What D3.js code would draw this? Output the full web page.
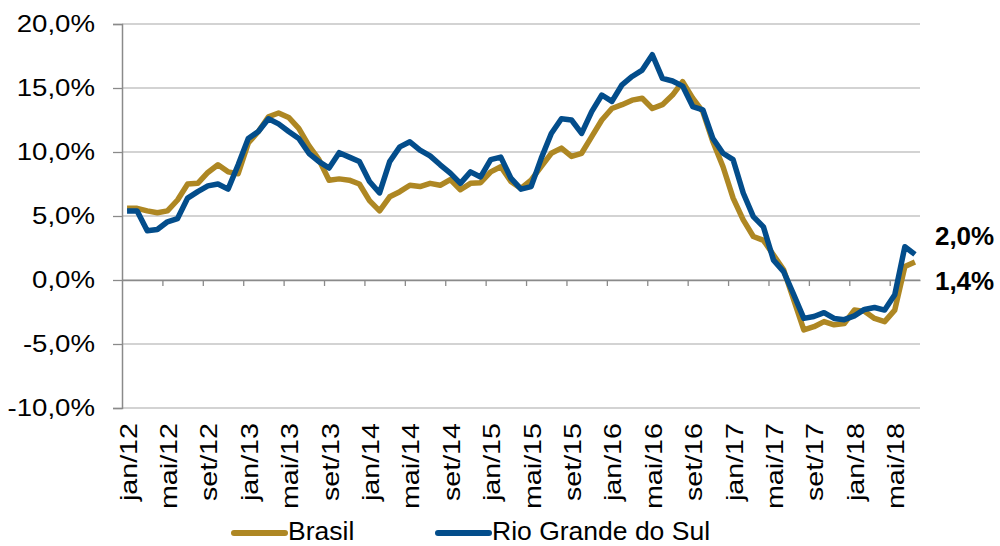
<!DOCTYPE html>
<html>
<head>
<meta charset="utf-8">
<script src="https://cdn.jsdelivr.net/npm/d3@7"></script>
<style>
    body { margin: 0; background: #fff; }
    svg { display: block; font-family: "Liberation Sans", Arial, sans-serif; }
</style>
</head>
<body>
<div class="chart"></div>
<script>
const months = ["jan", "fev", "mar", "abr", "mai", "jun", "jul", "ago", "set", "out", "nov", "dez"]
const years = ["12", "13", "14", "15", "16", "17", "18"]

// jan/12 .. jul/18, monthly
const categories = []
years.forEach(y => months.forEach(m => categories.push(m + "/" + y)))
categories.splice(79)

const brasil = [
    5.6, 5.6, 5.4, 5.25, 5.4, 6.25, 7.5, 7.55, 8.4, 9.0, 8.45, 8.3,
    10.7, 11.6, 12.75, 13.05, 12.7, 11.85, 10.5, 9.4, 7.8, 7.9, 7.8, 7.5,
    6.2, 5.4, 6.5, 6.9, 7.4, 7.3, 7.55, 7.4, 7.85, 7.05, 7.55, 7.6,
    8.45, 8.85, 7.7, 7.15, 7.8, 8.85, 9.9, 10.3, 9.65, 9.9, 11.2, 12.5,
    13.4, 13.7, 14.05, 14.2, 13.4, 13.7, 14.45, 15.5, 14.2, 13.15, 10.8, 8.85,
    6.4, 4.7, 3.4, 3.1, 1.95, 0.8, -1.55, -3.9, -3.65, -3.25, -3.5, -3.4,
    -2.35, -2.45, -3.0, -3.25, -2.35, 1.05, 1.4
]

const rs = [
    5.4, 5.4, 3.85, 3.95, 4.55, 4.8, 6.4, 6.9, 7.35, 7.5, 7.1, 9.0,
    11.05, 11.6, 12.6, 12.2, 11.6, 11.05, 9.9, 9.25, 8.75, 9.95, 9.6, 9.25,
    7.7, 6.8, 9.25, 10.4, 10.8, 10.15, 9.7, 9.0, 8.35, 7.55, 8.45, 8.05,
    9.4, 9.6, 7.95, 7.1, 7.3, 9.5, 11.45, 12.6, 12.5, 11.45, 13.15, 14.45,
    13.95, 15.25, 15.9, 16.4, 17.6, 15.75, 15.55, 15.15, 13.55, 13.3, 11.05, 9.9,
    9.4, 6.8, 4.95, 4.15, 1.55, 0.65, -1.15, -3.0, -2.85, -2.55, -3.0, -3.1,
    -2.8, -2.3, -2.15, -2.35, -1.15, 2.6, 2.0
]

const series_names = ["Brasil", "Rio Grande do Sul"]
const series_colors = ["#AE8723", "#034D8B"]
const y_ticks = [-10, -5, 0, 5, 10, 15, 20]
const end_labels = ["1,4%", "2,0%"]

const ctx = {
    W: 1000,
    H: 546,
    left: 122,
    right: 920,
    top: 24,
    bottom: 408,
}

const svg = d3.select(".chart").append("svg")
    .attr("width", ctx.W)
    .attr("height", ctx.H)

const x = d3.scaleLinear().domain([0, categories.length]).range([ctx.left, ctx.right])
const y = d3.scaleLinear().domain([-10, 20]).range([ctx.bottom, ctx.top])

// gridlines
svg.append("g")
    .selectAll("line")
    .data(y_ticks)
    .enter()
    .append("line")
    .attr("x1", ctx.left)
    .attr("x2", ctx.right)
    .attr("y1", d => y(d))
    .attr("y2", d => y(d))
    .attr("stroke", "#c4c4c4")
    .attr("stroke-width", 1.3)

// y axis (plain hyphen minus, comma decimal)
const locale = d3.formatLocale({ decimal: ",", thousands: ".", grouping: [3], currency: ["R$", ""], minus: "-" })
const fmt = d => locale.format(".1f")(d) + "%"
const yAxis = svg.append("g")
    .attr("transform", `translate(${ctx.left},0)`)
    .call(d3.axisLeft(y).tickValues(y_ticks).tickSize(9).tickFormat(fmt))
yAxis.select(".domain").attr("stroke", "#8a8a8a").attr("stroke-width", 1.5)
yAxis.selectAll(".tick line").attr("stroke", "#8a8a8a").attr("stroke-width", 1.3)
yAxis.selectAll(".tick text")
    .attr("x", -27 / 1.15)
    .attr("transform", "scale(1.15,1)")
    .attr("font-size", 24)
    .attr("fill", "#000")

// category axis at zero with ticks every 4 months
const tick_idx = d3.range(4, categories.length, 4)
const xAxis = svg.append("g")
    .attr("transform", `translate(0,${y(0)})`)
    .call(d3.axisBottom(x).tickValues(tick_idx).tickSize(6).tickFormat("").tickSizeOuter(0))
xAxis.select(".domain").attr("stroke", "#8a8a8a").attr("stroke-width", 1.5)
xAxis.selectAll(".tick line").attr("stroke", "#8a8a8a").attr("stroke-width", 1.3)

// category labels (low position)
const label_idx = d3.range(0, categories.length, 4)
const xLabels = svg.append("g")
    .attr("transform", `translate(0,423)`)
    .call(d3.axisBottom(x).tickValues(label_idx.map(i => i + 0.5)).tickSize(0)
        .tickFormat(d => categories[Math.floor(d)]))
xLabels.select(".domain").remove()
xLabels.selectAll(".tick text")
    .attr("x", 0)
    .attr("y", 0)
    .attr("dy", null)
    .attr("text-anchor", "end")
    .attr("transform", "translate(9,0) rotate(-90) scale(1.22,1)")
    .attr("font-size", 23.5)
    .attr("fill", "#000")

// lines
const line = d3.line()
    .x((d, i) => x(i + 0.5))
    .y(d => y(d))

const all_series = [brasil, rs]
svg.append("g")
    .selectAll("path")
    .data(all_series)
    .enter()
    .append("path")
    .attr("d", line)
    .attr("fill", "none")
    .attr("stroke", (d, i) => series_colors[i])
    .attr("stroke-width", 5.5)
    .attr("stroke-linejoin", "round")

// end value labels
const last = categories.length - 0.5
svg.append("text")
    .attr("x", x(last) + 20)
    .attr("y", y(rs[rs.length - 1]) - 9)
    .attr("font-size", 26)
    .attr("font-weight", "bold")
    .text(end_labels[1])
svg.append("text")
    .attr("x", x(last) + 20)
    .attr("y", y(brasil[brasil.length - 1]) + 28)
    .attr("font-size", 26)
    .attr("font-weight", "bold")
    .text(end_labels[0])

// legend
const legend_x = [234, 438]
const legend = svg.append("g")
    .selectAll("g")
    .data(series_names)
    .enter()
    .append("g")
    .attr("transform", (d, i) => `translate(${legend_x[i]},533)`)
legend.append("line")
    .attr("x1", 0)
    .attr("x2", 51)
    .attr("stroke", (d, i) => series_colors[i])
    .attr("stroke-width", 6)
    .attr("stroke-linecap", "round")
legend.append("text")
    .attr("x", 54)
    .attr("y", 7)
    .attr("font-size", 26.5)
    .text(d => d)
</script>
</body>
</html>
